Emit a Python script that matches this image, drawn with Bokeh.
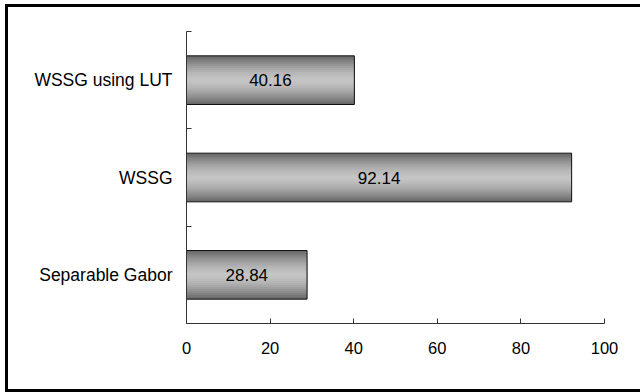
from bokeh.plotting import figure
from bokeh.models import Range1d, FixedTicker, ColumnDataSource, LabelSet
from bokeh.core.properties import value
from bokeh.embed import file_html
from bokeh.resources import INLINE

categories = ["Separable Gabor", "WSSG", "WSSG using LUT"]
values = [28.84, 92.14, 40.16]
value_labels = ["28.84", "92.14", "40.16"]
x_ticks = [0, 20, 40, 60, 80, 100]

FONT = "Liberation Sans"

ypos = [i + 0.5 for i in range(len(categories))]
src = ColumnDataSource(dict(y=ypos, v=values, half=[v / 2 for v in values], lab=value_labels))

p = figure(width=632, height=382, frame_width=418, frame_height=292,
           min_border_left=178, min_border_right=36, min_border_top=24, min_border_bottom=66,
           x_range=Range1d(0, 100), y_range=Range1d(0, len(categories)),
           output_backend="svg", toolbar_location=None)
p.outline_line_color = None
p.background_fill_color = "white"
p.border_fill_color = "white"
p.grid.visible = False
p.styles = {"border-left": "3px solid black", "border-top": "3px solid black",
            "border-bottom": "3px solid black", "border-right": "0px none white",
            "margin-left": "5px", "margin-top": "4px", "box-sizing": "content-box"}

# gradient bars built from layered strips
dark, light = 0x6a, 0xc6
n = 12
bar_h = 0.5
for i in range(n):
    d = 1 - i / n
    g = int(light - (light - dark) * d ** 1.6)
    col = "#%02x%02x%02x" % (g, g, g)
    p.hbar(y="y", right="v", left=0, height=bar_h * d, source=src,
           fill_color=col, line_color=None)
p.hbar(y="y", right="v", left=0, height=bar_h, source=src,
       fill_color=None, line_color="#111111", line_width=1)

labels = LabelSet(x="half", y="y", text="lab", source=src, text_align="center",
                  text_baseline="middle", text_font=value(FONT), text_font_size=value("17px"),
                  text_color="black")
p.add_layout(labels)

# axes
xa = p.xaxis[0]
xa.ticker = FixedTicker(ticks=x_ticks)
xa.major_tick_in = 5
xa.major_tick_out = 0
xa.minor_tick_in = 0
xa.minor_tick_out = 0
xa.major_label_standoff = 18
xa.major_label_text_font = FONT
xa.major_label_text_font_size = "16.5px"
xa.major_label_text_color = "black"
xa.axis_line_color = "#333333"
xa.major_tick_line_color = "#333333"

ya = p.yaxis[0]
ya.ticker = FixedTicker(ticks=ypos, minor_ticks=list(range(len(categories) + 1)))
ya.major_label_overrides = {y: c for y, c in zip(ypos, categories)}
ya.major_tick_in = 0
ya.major_tick_out = 0
ya.minor_tick_in = 5
ya.minor_tick_out = 0
ya.minor_tick_line_color = "#333333"
ya.axis_line_color = "#333333"
ya.major_label_standoff = 14
ya.major_label_text_font = FONT
ya.major_label_text_font_size = "17.5px"
ya.major_label_text_color = "black"

open("out.html", "w").write(file_html(p, INLINE))
